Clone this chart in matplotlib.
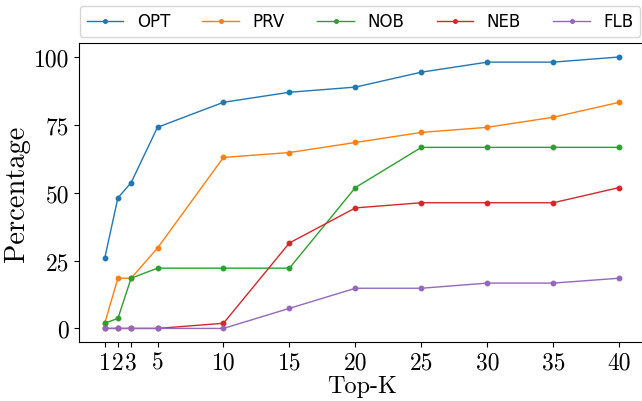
import matplotlib
matplotlib.use("Agg")
import matplotlib.pyplot as plt

topk = [1, 2, 3, 5, 10, 15, 20, 25, 30, 35, 40]
opt = [25.9, 48.1, 53.7, 74.1, 83.3, 87.0, 88.9, 94.4, 98.1, 98.1, 100.0]
prv = [1.9, 18.5, 18.5, 29.6, 63.0, 64.8, 68.5, 72.2, 74.1, 77.8, 83.3]
nob = [1.9, 3.7, 18.5, 22.2, 22.2, 22.2, 51.9, 66.7, 66.7, 66.7, 66.7]
neb = [0.0, 0.0, 0.0, 0.0, 1.9, 31.5, 44.4, 46.3, 46.3, 46.3, 51.9]
flb = [0.0, 0.0, 0.0, 0.0, 0.0, 7.4, 14.8, 14.8, 16.7, 16.7, 18.5]
series = [("OPT", opt), ("PRV", prv), ("NOB", nob), ("NEB", neb), ("FLB", flb)]
yticks = [0, 25, 50, 75, 100]

plt.rcParams['axes.formatter.use_mathtext'] = True
fig = plt.figure(figsize=(6.42, 4.02), dpi=100)
ax = fig.add_axes([79/642, 1-343/402, 566/642, (343-44.4)/402])

for name, vals in series:
    ax.plot(topk, vals, marker='o', markersize=3.2, linewidth=1.0, label=name)

ax.set_xticks(topk)
ax.set_xticklabels([str(k) for k in topk], fontfamily='cmr10', fontsize=17)
ax.set_yticks(yticks)
ax.set_yticklabels([str(v) for v in yticks], fontfamily='cmr10', fontsize=17)
ax.set_xlabel('Top-K', fontfamily='cmr10', fontsize=17.5, labelpad=1)
ax.set_ylabel('Percentage', fontfamily='cmr10', fontsize=20.5, labelpad=3)
ax.set_xlim(-0.95, 41.95)
ax.set_ylim(-5, 105)

handles, labels = ax.get_legend_handles_labels()
fig.legend(handles, labels, loc='lower left', ncol=5, mode='expand',
           bbox_to_anchor=(80/642, 1-38/402, 560/642, 30/402), borderaxespad=0,
           fontsize=12, frameon=True, handlelength=2.2, markerscale=0.8)

fig.savefig('out.png', dpi=100)
